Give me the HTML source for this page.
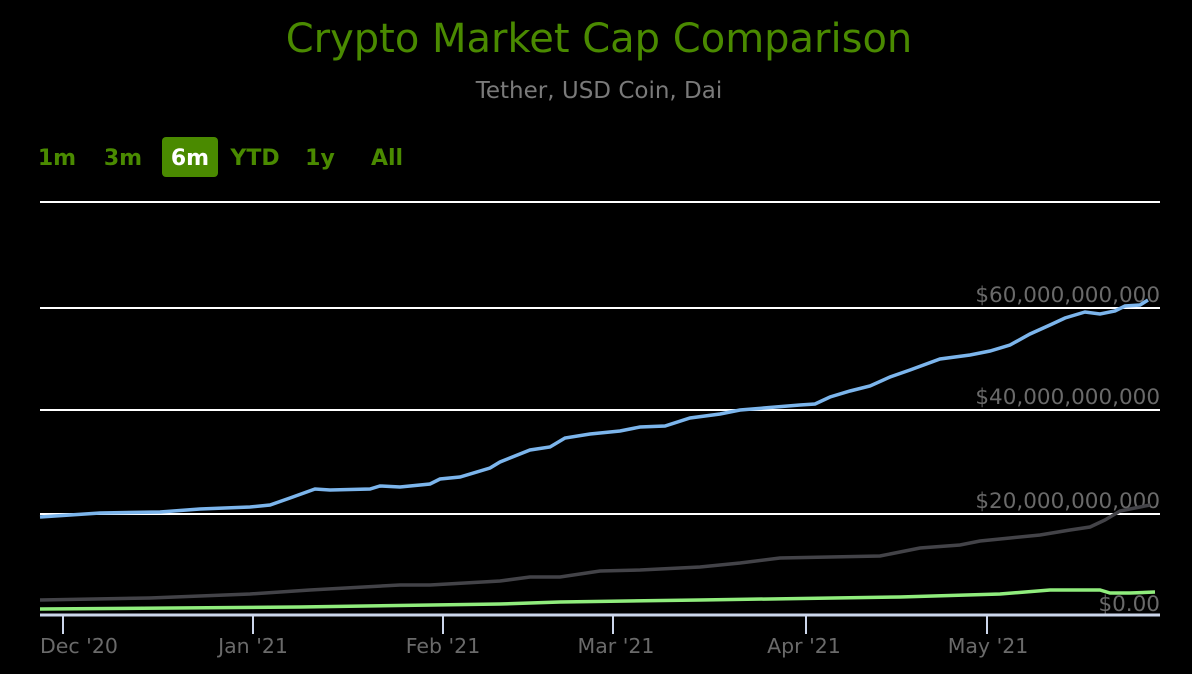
<!DOCTYPE html>
<html><head><style>
body{margin:0;background:#000;}
svg{display:block}
text{font-family:"DejaVu Sans","Liberation Sans",sans-serif}
</style></head><body>
<svg width="1192" height="674" viewBox="0 0 1192 674">
<rect width="1192" height="674" fill="#000"/>
<text x="599" y="52" text-anchor="middle" font-size="40" fill="#4a8a00">Crypto Market Cap Comparison</text>
<text x="599" y="98" text-anchor="middle" font-size="23" fill="#7a7a7a">Tether, USD Coin, Dai</text>
<rect x="162" y="137" width="56" height="40" rx="4" fill="#4a8a00"/>
<g font-size="22" font-weight="bold" fill="#4a8a00">
<text x="57" y="165" text-anchor="middle">1m</text>
<text x="123" y="165" text-anchor="middle">3m</text>
<text x="190" y="165" text-anchor="middle" fill="#fff">6m</text>
<text x="255" y="165" text-anchor="middle">YTD</text>
<text x="320" y="165" text-anchor="middle">1y</text>
<text x="387" y="165" text-anchor="middle">All</text>
</g>
<g stroke="#fff" stroke-width="2">
<line x1="40" y1="202" x2="1160" y2="202"/>
<line x1="40" y1="308" x2="1160" y2="308"/>
<line x1="40" y1="410" x2="1160" y2="410"/>
<line x1="40" y1="514" x2="1160" y2="514"/>
</g>
<g font-size="21.5" fill="#6a6a6a" text-anchor="end">
<text x="1160" y="302">$60,000,000,000</text>
<text x="1160" y="404">$40,000,000,000</text>
<text x="1160" y="508">$20,000,000,000</text>
<text x="1160" y="611">$0.00</text>
</g>
<polyline fill="none" stroke="#434348" stroke-width="3.5" points="40,600 150,598 250,594 310,590 400,585 430,585 500,581 530,577 560,577 600,571 640,570 700,567 740,563 780,558 830,557 880,556 920,548 960,545 980,541 1010,538 1040,535 1070,530 1090,527 1105,520 1120,511 1150,505"/>
<polyline fill="none" stroke="#90ed7d" stroke-width="3.5" points="40,609 300,607 500,604 560,602 700,600 900,597 1000,594 1050,590 1100,590 1110,593 1130,593 1155,592"/>
<polyline fill="none" stroke="#7cb5ec" stroke-width="3.5" points="40,517 100,513 160,512 200,509 250,507 270,505 290,498 315,489 330,490 370,489 380,486 400,487 430,484 440,479 460,477 490,468 500,462 530,450 550,447 565,438 590,434 620,431 640,427 665,426 690,418 720,414 740,410 800,405 815,404 830,397 850,391 870,386 890,377 910,370 940,359 970,355 990,351 1010,345 1030,334 1050,325 1065,318 1085,312 1100,314 1115,311 1125,306 1140,305 1148,300"/>
<line x1="40" y1="615" x2="1160" y2="615" stroke="#ccd6eb" stroke-width="3"/>
<g stroke="#ccd6eb" stroke-width="2">
<line x1="63" y1="615" x2="63" y2="634"/>
<line x1="253" y1="615" x2="253" y2="634"/>
<line x1="443" y1="615" x2="443" y2="634"/>
<line x1="613" y1="615" x2="613" y2="634"/>
<line x1="806" y1="615" x2="806" y2="634"/>
<line x1="987" y1="615" x2="987" y2="634"/>
</g>
<g font-size="20.5" fill="#6a6a6a">
<text x="40" y="653">Dec '20</text>
<text x="253" y="653" text-anchor="middle">Jan '21</text>
<text x="443" y="653" text-anchor="middle">Feb '21</text>
<text x="616" y="653" text-anchor="middle">Mar '21</text>
<text x="804" y="653" text-anchor="middle">Apr '21</text>
<text x="988" y="653" text-anchor="middle">May '21</text>
</g>
</svg>
</body></html>
